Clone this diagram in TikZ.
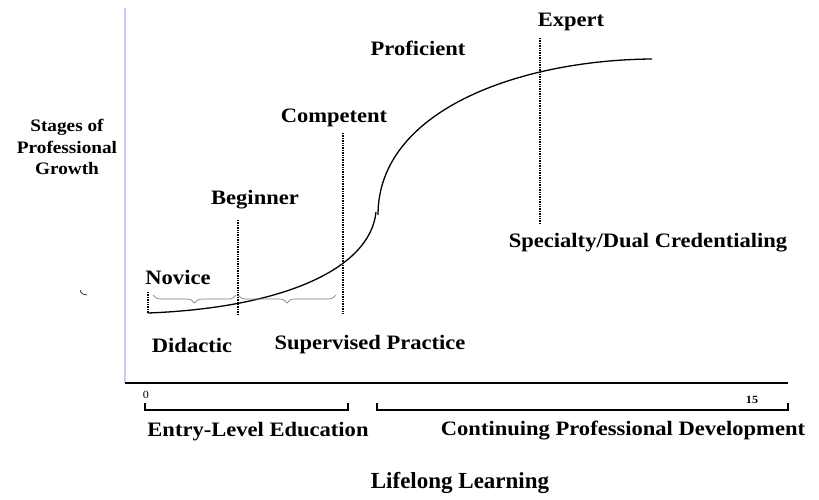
\documentclass[tikz,border=0pt]{standalone}
\usepackage{fontspec}
\setmainfont{Liberation Serif}[FakeStretch=1.1]
\newfontfamily\titlefont{Liberation Serif}
\usetikzlibrary{decorations.pathreplacing}
\tikzset{
    stage label/.style={font=\bfseries\fontsize{20.5}{24}\selectfont, inner sep=0pt},
    stage line/.style={densely dotted, line width=1.4pt},
    phase brace/.style={
        decorate, decoration={brace, mirror, amplitude=8pt},
        draw=gray, line width=0.7pt
    },
    span bracket/.style={line width=1.1pt},
}
\colorlet{AxisLavender}{blue!20}

\begin{document}
\begin{tikzpicture}[x=1pt, y=-1pt]

    \useasboundingbox (0,0) rectangle (819,500);

    \coordinate (O) at (125,383);
    \coordinate (Top) at (125,8);
    \coordinate (End) at (788,383);

    % axes
    \draw[AxisLavender, line width=1.6pt] (Top) -- (O);
    \draw[line width=1.5pt] (O) -- (End);

    \node[font=\bfseries\fontsize{17.5}{21.5}\selectfont, align=center] (stages) at (67,147)
        {Stages of\\Professional\\Growth};

    % growth curve
    \coordinate (S) at (148,313);
    \coordinate (M1) at (376,212);
    \coordinate (M2) at (378,215);
    \coordinate (E) at (652,59);
    \draw[line width=1.3pt] (S) .. controls (280,308) and (370,270) .. (M1);
    \draw[line width=1.3pt] (M2) .. controls (378,110) and (520,60) .. (E);

    % stages
    \node[stage label] (novice) at (178,277) {Novice};
    \node[stage label] (beginner) at (255,200) {Beginner};
    \node[stage label] (competent) at (334,118) {Competent};
    \node[stage label] (proficient) at (418,48) {Proficient};
    \node[stage label] (expert) at (571,22) {Expert};
    \node[stage label] (specialty) at (648,243) {Specialty/Dual Credentialing};

    \draw[stage line] (148,292) -- (S);
    \draw[stage line] (238,220) -- (238,315);
    \draw[stage line] (343,133) -- (343,315);
    \draw[stage line] (540,38) -- (540,225);

    \draw[phase brace] (153,295) -- (236,295);
    \draw[phase brace] (238,295) -- (336,295);
    \draw[line width=0.6pt] (80,290) .. controls (81,294) and (84,295) .. (87,295);

    \node[stage label] (didactic) at (192,345) {Didactic};
    \node[stage label] (supervised) at (370,345) {Supervised Practice};

    % time spans
    \node[font=\fontsize{11}{13}\selectfont, inner sep=0pt] (zero) at (146,395) {0};
    \node[font=\bfseries\fontsize{11}{13}\selectfont, inner sep=0pt] (fifteen) at (752,400) {15};
    \draw[span bracket] (145,403) -- (145,410) -- (348,410) -- (348,403);
    \draw[span bracket] (377,403) -- (377,410) -- (788,410) -- (788,403);

    \node[stage label] (entry) at (258,432) {Entry-Level Education};
    \node[stage label] (cpd) at (623,431) {Continuing Professional Development};

    \node[font=\titlefont\bfseries\fontsize{23}{26}\selectfont, inner sep=0pt] (lifelong) at (460,483)
        {Lifelong Learning};

\end{tikzpicture}
\end{document}
